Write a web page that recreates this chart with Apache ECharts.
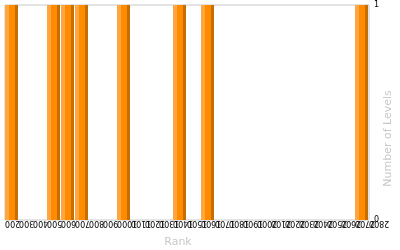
<!DOCTYPE html>
<html><head><meta charset="utf-8">
<script src="https://cdn.jsdelivr.net/npm/echarts@6/dist/echarts.min.js"></script>
<style>html,body{margin:0;padding:0;background:#fff}#c{width:400px;height:250px}</style>
</head><body><div id="c"></div>
<script>
var binStarts = [200,300,400,500,600,700,800,900,1000,1100,1200,1300,1400,1500,1600,1700,1800,1900,2000,2100,2200,2300,2400,2500,2600,2700];
var levelCounts = [1,0,0,1,1,1,0,0,1,0,0,0,1,0,1,0,0,0,0,0,0,0,0,0,0,1];
var binWidth = 100;
var xMin = 200, xMax = 2800, xStep = 100;
var yMin = 0, yMax = 1;

var data = binStarts.map(function(s, i){ return [s, levelCounts[i]]; });

function renderBar(params, api){
  var s = api.value(0), v = api.value(1);
  if (!v) return null;
  var p0 = api.coord([s, v]);
  var p1 = api.coord([s + binWidth, 0]);
  var x = p0[0], y = p0[1], w = p1[0] - p0[0] - 1, h = p1[1] - p0[1];
  var wl = Math.round(w * 0.28), wd = Math.round(w * 0.22);
  return {type: 'group', children: [
    {type: 'rect', shape: {x: x, y: y, width: wl, height: h}, style: {fill: '#FFA640'}},
    {type: 'rect', shape: {x: x + wl, y: y, width: w - wl - wd, height: h}, style: {fill: '#FF8C00'}},
    {type: 'rect', shape: {x: x + w - wd, y: y, width: wd, height: h}, style: {fill: '#C86E00'}}
  ]};
}

var chart = echarts.init(document.getElementById('c'), null, {renderer: 'canvas'});
chart.setOption({
  animation: false,
  grid: {left: 5, right: 31, top: 5, bottom: 30, outerBoundsMode: 'none', show: true, borderColor: '#C8C8C8', borderWidth: 1, backgroundColor: 'transparent'},
  xAxis: {
    type: 'value', min: xMin, max: xMax, interval: xStep,
    name: 'Rank', nameLocation: 'middle', nameGap: 17, nameMoveOverlap: false,
    nameTextStyle: {color: '#C8C8C8', fontFamily: 'DejaVu Sans', fontSize: 11, padding: [0, 18, 0, 0]},
    axisLine: {show: false}, axisTick: {show: false}, splitLine: {show: false},
    axisLabel: {rotate: 90, fontFamily: 'DejaVu Sans', fontSize: 8, color: '#000', margin: 3,
      formatter: function(v){ return String(v); }}
  },
  yAxis: {
    type: 'value', min: yMin, max: yMax, interval: 1, position: 'right',
    name: 'Number of Levels', nameLocation: 'middle', nameGap: 14, nameMoveOverlap: false,
    nameTextStyle: {color: '#C8C8C8', fontFamily: 'DejaVu Sans', fontSize: 11, padding: [0, 52, 0, 0]},
    axisLine: {show: false}, axisTick: {show: false}, splitLine: {show: false},
    axisLabel: {fontFamily: 'DejaVu Sans', fontSize: 8, color: '#000', margin: 5}
  },
  series: [{type: 'custom', data: data, encode: {x: 0, y: 1}, renderItem: renderBar}]
});

// Fallback: make sure the x-axis tick labels are turned to read bottom-to-top.
var tickTexts = {};
for (var t = xMin; t <= xMax; t += xStep) tickTexts[String(t)] = true;
var changed = false;
chart.getZr().storage.getDisplayList(true).forEach(function(el){
  if (el.style && tickTexts[el.style.text] && Math.abs(el.rotation || 0) < 1) {
    el.rotation = Math.PI / 2;
    el.style.align = 'right';
    el.style.verticalAlign = 'middle';
    if (el.markRedraw) el.markRedraw();
    changed = true;
  }
});
if (changed) chart.getZr().refreshImmediately();
</script></body></html>
